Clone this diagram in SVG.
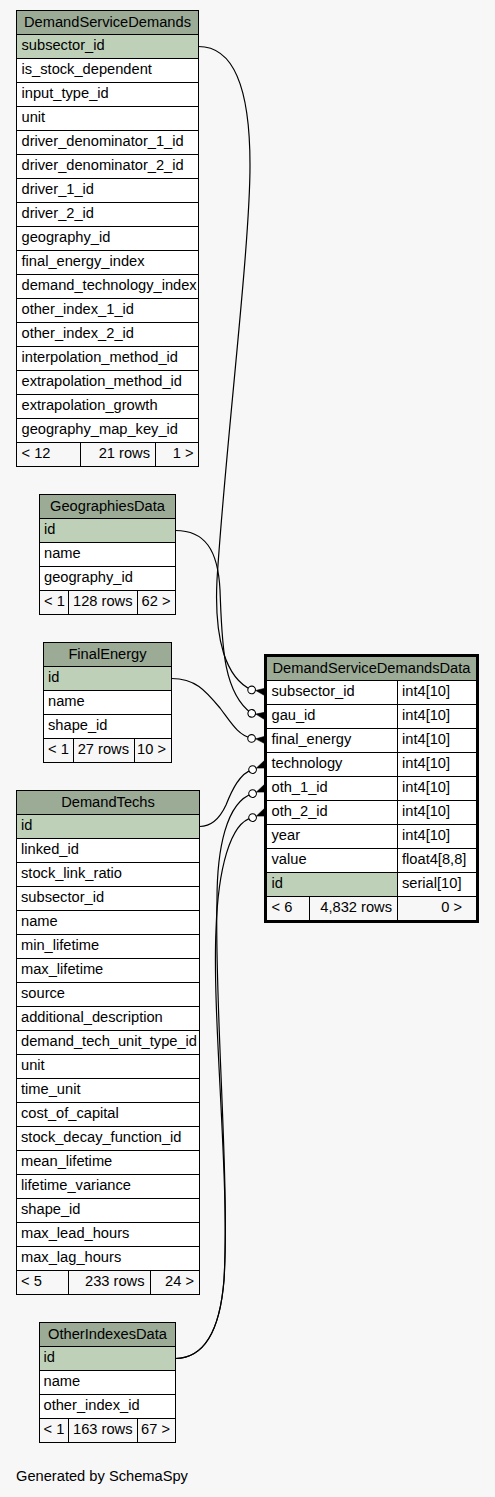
<svg xmlns="http://www.w3.org/2000/svg" xmlns:xlink="http://www.w3.org/1999/xlink" width="495" height="1497" viewBox="0 0 495 1497">
<style>
.bg{fill:#f7f7f7}
.h{fill:#9bab96;stroke:#000;stroke-width:1}
.k{fill:#bed1b8;stroke:#000;stroke-width:1}
.r{fill:#ffffff;stroke:#000;stroke-width:1}
.f{fill:#f7f7f7;stroke:#000;stroke-width:1}
.ln{stroke:#000;stroke-width:1}
text{font-family:"Liberation Sans",Arial,Helvetica,sans-serif;font-size:14.67px;fill:#000}
.c{text-anchor:middle}
.e{text-anchor:end}
.edge{fill:none;stroke:#000;stroke-width:1.2}
.dot{fill:#fff;stroke:#000;stroke-width:1.1}
.crow{fill:#000;stroke:#000;stroke-width:0.6}
</style>
<defs>
<g id="crowodot">
<circle class="dot" cx="-15" cy="0" r="3.8"/>
<polygon class="crow" points="-10.8,0 0,-4.3 -1.8,0 0,4.3"/>
</g>
</defs>
<rect class="bg" x="0" y="0" width="495" height="1497"/>

<g id="connectors">
<path class="edge" d="M198.5,46.5 C230,46.5 250,80 250,165 C250,250 225,450 217,580 C214,640 226,678 251.6,689.9"/>
<path class="edge" d="M175.5,530.5 C205,530.5 218,550 220,590 C222,640 222,692 251.7,713.4"/>
<path class="edge" d="M171.5,678.5 C195,678.5 205,690 220,708 C232,724 238,735 251.6,738.4"/>
<path class="edge" d="M199.5,826.5 C212,826.5 220,818 226,805 C232,790 240,773 252.6,769.6"/>
<path class="edge" d="M175.5,1358.5 C205,1358 220,1330 224,1280 C230,1180 214,1000 217,900 C217,850 226,802 252.6,793.6"/>
<path class="edge" d="M175.5,1358.5 C205,1358 220,1330 224,1280 C230,1180 212,1020 216,930 C218,870 230,822 252.6,817.6"/>
<use xlink:href="#crowodot" href="#crowodot" transform="translate(266.5,692) rotate(8)"/>
<use xlink:href="#crowodot" href="#crowodot" transform="translate(266.5,716) rotate(10)"/>
<use xlink:href="#crowodot" href="#crowodot" transform="translate(266.5,740) rotate(6)"/>
<use xlink:href="#crowodot" href="#crowodot" transform="translate(266.5,764) rotate(-22)"/>
<use xlink:href="#crowodot" href="#crowodot" transform="translate(266.5,788) rotate(-22)"/>
<use xlink:href="#crowodot" href="#crowodot" transform="translate(266.5,812) rotate(-22)"/>
</g>

<g id="DemandServiceDemands">
<rect class="h" x="16.5" y="10.5" width="182" height="24"/>
<text class="c" x="107.5" y="26.5">DemandServiceDemands</text>
<rect class="k" x="16.5" y="34.5" width="182" height="24"/>
<rect class="r" x="16.5" y="58.5" width="182" height="24"/>
<rect class="r" x="16.5" y="82.5" width="182" height="24"/>
<rect class="r" x="16.5" y="106.5" width="182" height="24"/>
<rect class="r" x="16.5" y="130.5" width="182" height="24"/>
<rect class="r" x="16.5" y="154.5" width="182" height="24"/>
<rect class="r" x="16.5" y="178.5" width="182" height="24"/>
<rect class="r" x="16.5" y="202.5" width="182" height="24"/>
<rect class="r" x="16.5" y="226.5" width="182" height="24"/>
<rect class="r" x="16.5" y="250.5" width="182" height="24"/>
<rect class="r" x="16.5" y="274.5" width="182" height="24"/>
<rect class="r" x="16.5" y="298.5" width="182" height="24"/>
<rect class="r" x="16.5" y="322.5" width="182" height="24"/>
<rect class="r" x="16.5" y="346.5" width="182" height="24"/>
<rect class="r" x="16.5" y="370.5" width="182" height="24"/>
<rect class="r" x="16.5" y="394.5" width="182" height="24"/>
<rect class="r" x="16.5" y="418.5" width="182" height="24"/>
<rect class="f" x="16.5" y="442.5" width="64" height="24"/>
<rect class="f" x="80.5" y="442.5" width="75" height="24"/>
<rect class="f" x="155.5" y="442.5" width="43" height="24"/>
<text x="21.5" y="50">subsector_id</text>
<text x="21.5" y="74">is_stock_dependent</text>
<text x="21.5" y="98">input_type_id</text>
<text x="21.5" y="122">unit</text>
<text x="21.5" y="146">driver_denominator_1_id</text>
<text x="21.5" y="170">driver_denominator_2_id</text>
<text x="21.5" y="194">driver_1_id</text>
<text x="21.5" y="218">driver_2_id</text>
<text x="21.5" y="242">geography_id</text>
<text x="21.5" y="266">final_energy_index</text>
<text x="21.5" y="290">demand_technology_index</text>
<text x="21.5" y="314">other_index_1_id</text>
<text x="21.5" y="338">other_index_2_id</text>
<text x="21.5" y="362">interpolation_method_id</text>
<text x="21.5" y="386">extrapolation_method_id</text>
<text x="21.5" y="410">extrapolation_growth</text>
<text x="21.5" y="434">geography_map_key_id</text>
<text x="21.5" y="458">&lt; 12</text>
<text class="e" x="150" y="458">21 rows</text>
<text class="e" x="193.5" y="458">1 &gt;</text>
</g>

<g id="GeographiesData">
<rect class="h" x="39.5" y="494.5" width="136" height="24"/>
<text class="c" x="107.5" y="510.5">GeographiesData</text>
<rect class="k" x="39.5" y="518.5" width="136" height="24"/>
<rect class="r" x="39.5" y="542.5" width="136" height="24"/>
<rect class="r" x="39.5" y="566.5" width="136" height="24"/>
<rect class="f" x="39.5" y="590.5" width="29" height="24"/>
<rect class="f" x="68.5" y="590.5" width="69" height="24"/>
<rect class="f" x="137.5" y="590.5" width="38" height="24"/>
<text x="44" y="534">id</text>
<text x="44" y="558">name</text>
<text x="44" y="582">geography_id</text>
<text x="44" y="606">&lt; 1</text>
<text class="e" x="132.5" y="606">128 rows</text>
<text class="e" x="170.5" y="606">62 &gt;</text>
</g>

<g id="FinalEnergy">
<rect class="h" x="43.5" y="642.5" width="128" height="24"/>
<text class="c" x="107.5" y="658.5">FinalEnergy</text>
<rect class="k" x="43.5" y="666.5" width="128" height="24"/>
<rect class="r" x="43.5" y="690.5" width="128" height="24"/>
<rect class="r" x="43.5" y="714.5" width="128" height="24"/>
<rect class="f" x="43.5" y="738.5" width="30" height="24"/>
<rect class="f" x="73.5" y="738.5" width="61" height="24"/>
<rect class="f" x="134.5" y="738.5" width="37" height="24"/>
<text x="48" y="682">id</text>
<text x="48" y="706">name</text>
<text x="48" y="730">shape_id</text>
<text x="48" y="754">&lt; 1</text>
<text class="e" x="129" y="754">27 rows</text>
<text class="e" x="166" y="754">10 &gt;</text>
</g>

<g id="DemandTechs">
<rect class="h" x="16.5" y="790.5" width="183" height="24"/>
<text class="c" x="108" y="806.5">DemandTechs</text>
<rect class="k" x="16.5" y="814.5" width="183" height="24"/>
<rect class="r" x="16.5" y="838.5" width="183" height="24"/>
<rect class="r" x="16.5" y="862.5" width="183" height="24"/>
<rect class="r" x="16.5" y="886.5" width="183" height="24"/>
<rect class="r" x="16.5" y="910.5" width="183" height="24"/>
<rect class="r" x="16.5" y="934.5" width="183" height="24"/>
<rect class="r" x="16.5" y="958.5" width="183" height="24"/>
<rect class="r" x="16.5" y="982.5" width="183" height="24"/>
<rect class="r" x="16.5" y="1006.5" width="183" height="24"/>
<rect class="r" x="16.5" y="1030.5" width="183" height="24"/>
<rect class="r" x="16.5" y="1054.5" width="183" height="24"/>
<rect class="r" x="16.5" y="1078.5" width="183" height="24"/>
<rect class="r" x="16.5" y="1102.5" width="183" height="24"/>
<rect class="r" x="16.5" y="1126.5" width="183" height="24"/>
<rect class="r" x="16.5" y="1150.5" width="183" height="24"/>
<rect class="r" x="16.5" y="1174.5" width="183" height="24"/>
<rect class="r" x="16.5" y="1198.5" width="183" height="24"/>
<rect class="r" x="16.5" y="1222.5" width="183" height="24"/>
<rect class="r" x="16.5" y="1246.5" width="183" height="24"/>
<rect class="f" x="16.5" y="1270.5" width="52" height="24"/>
<rect class="f" x="68.5" y="1270.5" width="82" height="24"/>
<rect class="f" x="150.5" y="1270.5" width="49" height="24"/>
<text x="21" y="830">id</text>
<text x="21" y="854">linked_id</text>
<text x="21" y="878">stock_link_ratio</text>
<text x="21" y="902">subsector_id</text>
<text x="21" y="926">name</text>
<text x="21" y="950">min_lifetime</text>
<text x="21" y="974">max_lifetime</text>
<text x="21" y="998">source</text>
<text x="21" y="1022">additional_description</text>
<text x="21" y="1046">demand_tech_unit_type_id</text>
<text x="21" y="1070">unit</text>
<text x="21" y="1094">time_unit</text>
<text x="21" y="1118">cost_of_capital</text>
<text x="21" y="1142">stock_decay_function_id</text>
<text x="21" y="1166">mean_lifetime</text>
<text x="21" y="1190">lifetime_variance</text>
<text x="21" y="1214">shape_id</text>
<text x="21" y="1238">max_lead_hours</text>
<text x="21" y="1262">max_lag_hours</text>
<text x="21" y="1286">&lt; 5</text>
<text class="e" x="144.5" y="1286">233 rows</text>
<text class="e" x="194" y="1286">24 &gt;</text>
</g>

<g id="OtherIndexesData">
<rect class="h" x="39.5" y="1322.5" width="136" height="24"/>
<text class="c" x="107.5" y="1338.5">OtherIndexesData</text>
<rect class="k" x="39.5" y="1346.5" width="136" height="24"/>
<rect class="r" x="39.5" y="1370.5" width="136" height="24"/>
<rect class="r" x="39.5" y="1394.5" width="136" height="24"/>
<rect class="f" x="39.5" y="1418.5" width="29" height="24"/>
<rect class="f" x="68.5" y="1418.5" width="69" height="24"/>
<rect class="f" x="137.5" y="1418.5" width="38" height="24"/>
<text x="43.5" y="1362">id</text>
<text x="43.5" y="1386">name</text>
<text x="43.5" y="1410">other_index_id</text>
<text x="43.5" y="1434">&lt; 1</text>
<text class="e" x="132.5" y="1434">163 rows</text>
<text class="e" x="170" y="1434">67 &gt;</text>
</g>

<g id="DemandServiceDemandsData">
<rect class="h" x="266.5" y="656.5" width="210" height="24"/>
<text class="c" x="371.5" y="672.5">DemandServiceDemandsData</text>
<rect class="r" x="266.5" y="680.5" width="131" height="24"/>
<rect class="r" x="397.5" y="680.5" width="79" height="24"/>
<rect class="r" x="266.5" y="704.5" width="131" height="24"/>
<rect class="r" x="397.5" y="704.5" width="79" height="24"/>
<rect class="r" x="266.5" y="728.5" width="131" height="24"/>
<rect class="r" x="397.5" y="728.5" width="79" height="24"/>
<rect class="r" x="266.5" y="752.5" width="131" height="24"/>
<rect class="r" x="397.5" y="752.5" width="79" height="24"/>
<rect class="r" x="266.5" y="776.5" width="131" height="24"/>
<rect class="r" x="397.5" y="776.5" width="79" height="24"/>
<rect class="r" x="266.5" y="800.5" width="131" height="24"/>
<rect class="r" x="397.5" y="800.5" width="79" height="24"/>
<rect class="r" x="266.5" y="824.5" width="131" height="24"/>
<rect class="r" x="397.5" y="824.5" width="79" height="24"/>
<rect class="r" x="266.5" y="848.5" width="131" height="24"/>
<rect class="r" x="397.5" y="848.5" width="79" height="24"/>
<rect class="k" x="266.5" y="872.5" width="131" height="24"/>
<rect class="r" x="397.5" y="872.5" width="79" height="24"/>
<rect class="f" x="266.5" y="896.5" width="43" height="24"/>
<rect class="f" x="309.5" y="896.5" width="88" height="24"/>
<rect class="f" x="397.5" y="896.5" width="79" height="24"/>
<text x="271.5" y="696">subsector_id</text>
<text x="402" y="696">int4[10]</text>
<text x="271.5" y="720">gau_id</text>
<text x="402" y="720">int4[10]</text>
<text x="271.5" y="744">final_energy</text>
<text x="402" y="744">int4[10]</text>
<text x="271.5" y="768">technology</text>
<text x="402" y="768">int4[10]</text>
<text x="271.5" y="792">oth_1_id</text>
<text x="402" y="792">int4[10]</text>
<text x="271.5" y="816">oth_2_id</text>
<text x="402" y="816">int4[10]</text>
<text x="271.5" y="840">year</text>
<text x="402" y="840">int4[10]</text>
<text x="271.5" y="864">value</text>
<text x="402" y="864">float4[8,8]</text>
<text x="271.5" y="888">id</text>
<text x="402" y="888">serial[10]</text>
<text x="271.5" y="912">&lt; 6</text>
<text class="e" x="392" y="912">4,832 rows</text>
<text class="e" x="462" y="912">0 &gt;</text>
<rect x="265.5" y="655.5" width="212" height="266" fill="none" stroke="#000" stroke-width="3"/>
</g>

<text x="16" y="1481">Generated by SchemaSpy</text>
</svg>
